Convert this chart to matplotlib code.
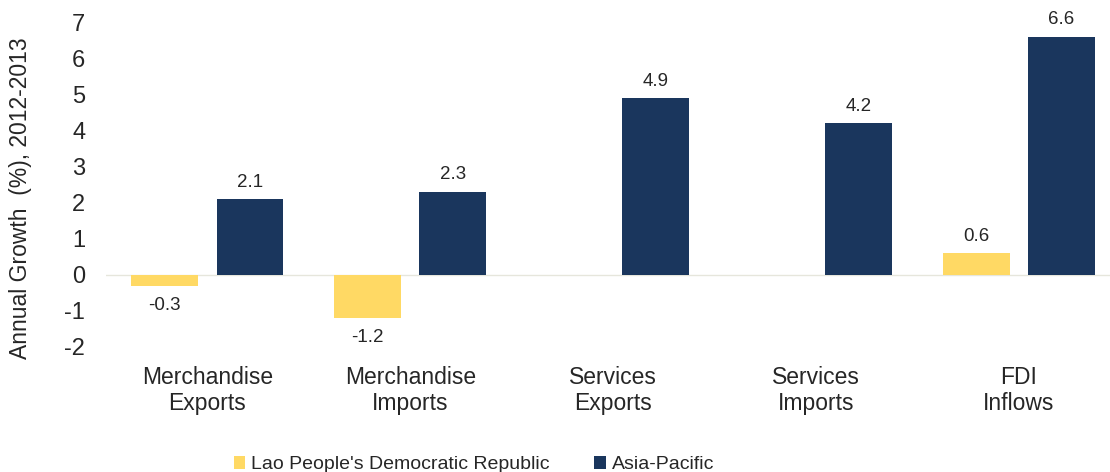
import matplotlib
matplotlib.use("Agg")
import matplotlib.pyplot as plt
import numpy as np

plt.rcParams["font.family"] = ["Liberation Sans", "DejaVu Sans"]
plt.rcParams["axes.unicode_minus"] = False

# ── data ──────────────────────────────────────────────────────────────────
categories = ["Merchandise\nExports", "Merchandise\nImports", "Services\nExports",
              "Services\nImports", "FDI\nInflows"]
lao = [-0.3, -1.2, None, None, 0.6]
asia = [2.1, 2.3, 4.9, 4.2, 6.6]
series_names = ["Lao People's Democratic Republic", "Asia-Pacific"]

YELLOW = "#FFD964"
NAVY = "#1A365D"
TXT = "#262626"

fig = plt.figure(figsize=(11.1, 4.72), dpi=100)
ax = fig.add_axes([0.0955, 0.265, 0.9045, 0.688])

x = np.arange(len(categories))
w = 0.33
off = 0.21

lao_x = [xi - off for xi, v in zip(x, lao) if v is not None]
lao_v = [v for v in lao if v is not None]
b1 = ax.bar(lao_x, lao_v, w, color=YELLOW, label=series_names[0], zorder=2)
b2 = ax.bar(x + off, asia, w, color=NAVY, label=series_names[1], zorder=2)

for xs, vals in [(lao_x, lao_v), (x + off, asia)]:
    for xi, v in zip(xs, vals):
        dy = 6 if v >= 0 else -8
        ax.annotate(f"{v:.1f}", xy=(xi, v), xytext=(0, dy), textcoords="offset points",
                    ha="center", va="bottom" if v >= 0 else "top",
                    fontsize=13.5, color=TXT)

ax.axhline(0, color="#E6E6DC", lw=1, zorder=1)
ax.set_ylim(-2, 7)
ax.set_xlim(-0.5, 4.45)
ax.set_yticks(range(-2, 8))
ax.set_xticks(x)
ax.set_xticklabels(categories, fontsize=16.5, color=TXT, linespacing=1.15)
ax.tick_params(axis="both", length=0)
ax.tick_params(axis="y", labelsize=17, labelcolor=TXT, pad=15)
ax.tick_params(axis="x", pad=14)
for s in ax.spines.values():
    s.set_visible(False)

ax.set_ylabel("Annual Growth  (%), 2012-2013", fontsize=16.5, color=TXT)
ax.yaxis.set_label_coords(-0.074, 0.458)

fig.legend(handles=[b1, b2], loc="center", bbox_to_anchor=(0.427, 0.015),
           ncol=2, frameon=False, fontsize=14, handlelength=0.6, handleheight=0.6,
           handletextpad=0.3, columnspacing=2.3, labelcolor=TXT)

fig.savefig("out.png", dpi=100)
